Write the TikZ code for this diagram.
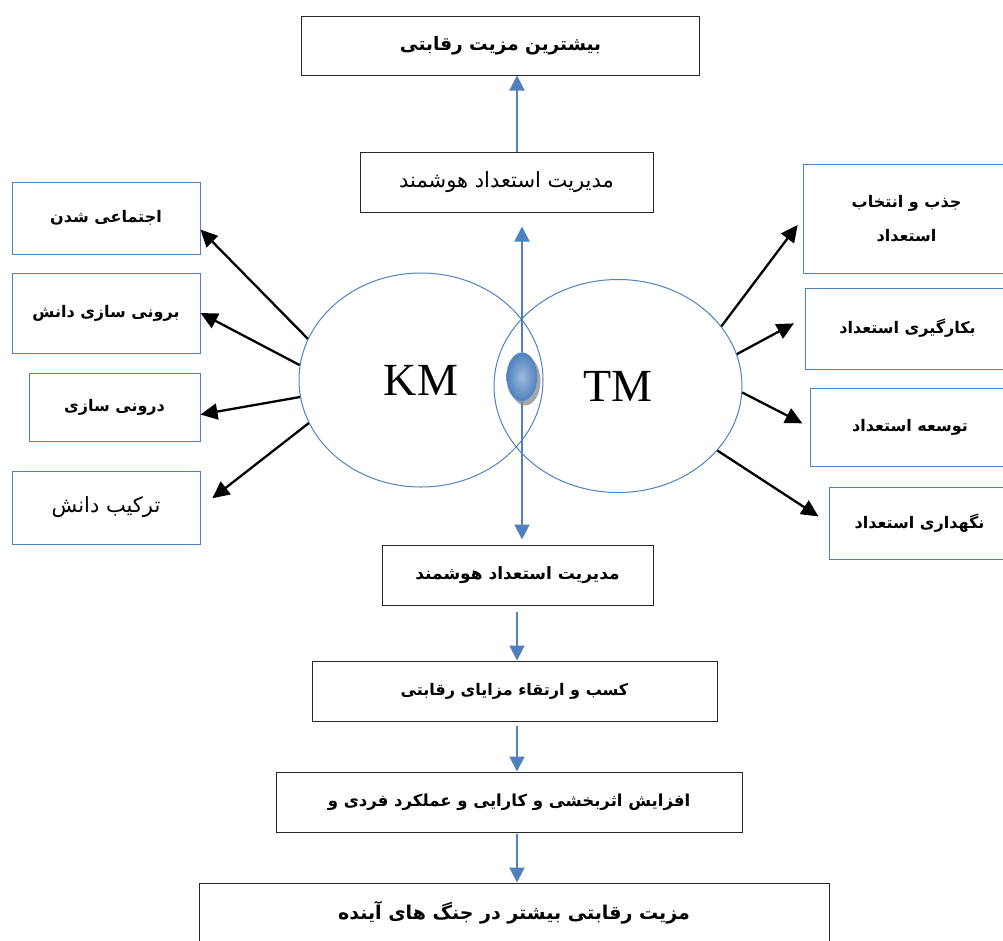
\documentclass[tikz,border=0pt]{standalone}
\usepackage{fontspec}
\usetikzlibrary{shapes.geometric,arrows.meta,shadows}
\TeXXeTstate=1
\newfontfamily\arabicfont[Script=Arabic]{DejaVu Sans}
\newfontfamily\timesfont{Liberation Serif}
\newcommand{\pers}[1]{{\arabicfont\beginR #1\endR}}
\definecolor{wordblue}{RGB}{79,129,189}

\begin{document}
\begin{tikzpicture}[x=1pt,y=-1pt]
	\useasboundingbox (0,0) rectangle (1003,940);
	\clip (0,0) rectangle (1003,940);
	\begin{scope}[every node/.style={rectangle,draw=black!85,line width=1pt,font=\bfseries\fontsize{17}{22}\selectfont}]
	\node[minimum width=398,minimum height=59,font=\bfseries\fontsize{18.5}{22}\selectfont] (TOP) at (500.5,45.5) {\pers{بیشترین مزیت رقابتی}};
	\node[minimum width=293,minimum height=60,font=\fontsize{21}{22}\selectfont] (MID) at (506.5,182) {\pers{مدیریت استعداد هوشمند}};
	\node[minimum width=271,minimum height=60] (M1) at (517.5,575) {\pers{مدیریت استعداد هوشمند}};
	\node[minimum width=405,minimum height=60,font=\bfseries\fontsize{16}{22}\selectfont] (M2) at (514.5,691) {\pers{کسب و ارتقاء مزایای رقابتی}};
	\node[minimum width=466,minimum height=60,font=\bfseries\fontsize{16.5}{22}\selectfont] (M3) at (509,802) {\pers{افزایش اثربخشی و کارایی و عملکرد فردی و}};
	\node[minimum width=630,minimum height=60,font=\bfseries\fontsize{19}{22}\selectfont] (M4) at (514,913) {\pers{مزیت رقابتی بیشتر در جنگ های آینده}};
	\end{scope}
	\begin{scope}[every node/.style={rectangle,draw=wordblue,line width=1pt,align=center,font=\bfseries\fontsize{16}{34}\selectfont}]
	\node[minimum width=188,minimum height=72] (S) at (106,218) {\pers{اجتماعی شدن}};
	\node[minimum width=188,minimum height=80] (E) at (106,313) {\pers{برونی سازی دانش}};
	\node[minimum width=171,minimum height=68] (I) at (114.5,407) {\pers{درونی سازی}};
	\node[minimum width=188,minimum height=73,font=\fontsize{21}{22}\selectfont] (C) at (106,507.5) {\pers{ترکیب دانش}};
	\node[minimum width=207,minimum height=109] (J) at (906.5,218.5) {\pers{جذب و انتخاب}\\\pers{استعداد}};
	\node[minimum width=205,minimum height=81] (B) at (907.5,328.5) {\pers{بکارگیری استعداد}};
	\node[minimum width=200,minimum height=78] (D) at (910,427) {\pers{توسعه استعداد}};
	\node[minimum width=181,minimum height=72] (N) at (919.5,523) {\pers{نگهداری استعداد}};
	\end{scope}
	\begin{scope}[every node/.style={ellipse,draw=wordblue,line width=1pt,font=\timesfont\fontsize{46}{46}\selectfont}]
	\node[minimum width=244,minimum height=214] (KM) at (421,380) {KM};
	\node[minimum width=248,minimum height=213] (TM) at (618,386) {TM};
	\end{scope}
	\coordinate (axis) at (517,0);
	\draw [wordblue,line width=2pt,-{Triangle[length=15pt,width=15pt]}] (axis |- MID.north) -- (axis |- TOP.south);
	\draw [wordblue,line width=2pt,{Triangle[length=15pt,width=15pt]}-{Triangle[length=15pt,width=15pt]},shorten <=14pt,shorten >=5pt] (522,0 |- MID.south) -- (522,0 |- M1.north);
	\node[ellipse,minimum width=31,minimum height=49,inner sep=0pt,draw=wordblue!60,shading=radial,inner color=wordblue!55,outer color=wordblue,drop shadow={shadow xshift=3pt,shadow yshift=-4pt,opacity=0.7}] (ball) at (522,377) {};
	\draw [wordblue,line width=2pt,-{Triangle[length=15pt,width=15pt]},shorten <=6pt] (axis |- M1.south) -- (axis |- M2.north);
	\draw [wordblue,line width=2pt,-{Triangle[length=15pt,width=15pt]},shorten <=4pt] (axis |- M2.south) -- (axis |- M3.north);
	\draw [wordblue,line width=2pt,-{Triangle[length=15pt,width=15pt]},shorten <=1pt] (axis |- M3.south) -- (axis |- M4.north);
	\draw [line width=2.3pt,-{Triangle[length=17pt,width=16pt]}] (KM.160) -- (S.-7);
	\draw [line width=2.3pt,-{Triangle[length=17pt,width=16pt]}] (KM.173) -- (E.east);
	\draw [line width=2.3pt,-{Triangle[length=17pt,width=16pt]}] (KM.188) -- (I.-5);
	\draw [line width=2.3pt,-{Triangle[length=17pt,width=16pt]},shorten >=15pt] (KM.201) -- (C.east);
	\draw [line width=2.3pt,-{Triangle[length=17pt,width=16pt]},shorten >=8pt] (TM.30) -- (J.west);
	\draw [line width=2.3pt,-{Triangle[length=17pt,width=16pt]},shorten >=12pt] (TM.15) -- (B.174);
	\draw [line width=2.3pt,-{Triangle[length=17pt,width=16pt]},shorten >=8pt] (TM.-3) -- (D.west);
	\draw [line width=2.3pt,-{Triangle[length=17pt,width=16pt]},shorten >=12pt] (TM.-33) -- (N.west);
\end{tikzpicture}
\end{document}
